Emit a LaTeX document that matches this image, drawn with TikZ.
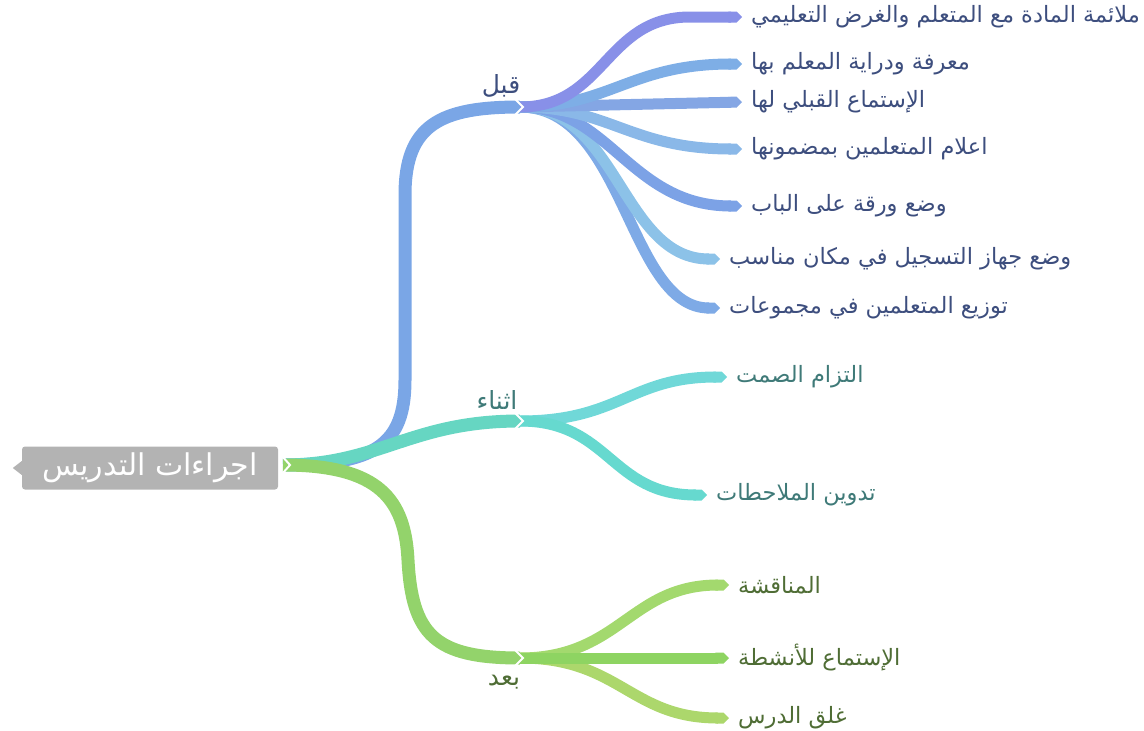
\documentclass[tikz,border=0pt]{standalone}
\usepackage{fontspec}
\newfontfamily\arabicfont[Script=Arabic]{DejaVu Sans}
\usetikzlibrary{arrows.meta}
\TeXXeTstate=1
\newcommand{\artxt}[1]{\beginR #1\endR}
\definecolor{rootgray}{HTML}{B3B3B3}
\definecolor{qblue}{HTML}{7AA6E6}
\definecolor{qpurple}{HTML}{8890E8}
\definecolor{qb2}{HTML}{7EAEE6}
\definecolor{qb3}{HTML}{84A6E4}
\definecolor{qb4}{HTML}{8AB8E8}
\definecolor{qb5}{HTML}{7CA2E6}
\definecolor{qb6}{HTML}{8CC2E8}
\definecolor{qb7}{HTML}{7EAAE6}
\definecolor{qtext}{HTML}{3D4E7E}
\definecolor{ateal}{HTML}{66D6C2}
\definecolor{at1}{HTML}{70D8D8}
\definecolor{at2}{HTML}{66D9CF}
\definecolor{atext}{HTML}{3F7A78}
\definecolor{bgreen}{HTML}{93D36B}
\definecolor{bg1}{HTML}{A3D96E}
\definecolor{bg2}{HTML}{8ED462}
\definecolor{bg3}{HTML}{ACD76C}
\definecolor{btext}{HTML}{4F6D35}
\begin{document}
\begin{tikzpicture}[x=1pt,y=-1pt,
  mainbr/.style={line width=13pt, line cap=butt},
  subbr/.style={line width=11pt, -{Triangle Cap[]}},
  leaf/.style={anchor=west, inner sep=1pt, font=\fontsize{22.5}{26}\selectfont\arabicfont},
  mainlbl/.style={inner sep=1pt, font=\fontsize{25}{28}\selectfont\arabicfont},
  notch/.style={draw=white, line width=2pt, line join=miter}
]
\useasboundingbox (0,0) rectangle (1144,731);

% junction coordinates
\coordinate (r) at (283,465);
\coordinate (jq) at (520,107);
\coordinate (ja) at (520,421);
\coordinate (jb) at (520,658);
% leaf tips
\coordinate (t1) at (742,17);
\coordinate (t2) at (742,64);
\coordinate (t3) at (742,102);
\coordinate (t4) at (742,149);
\coordinate (t5) at (742,206);
\coordinate (t6) at (720,259);
\coordinate (t7) at (720,308);
\coordinate (a1) at (727,377);
\coordinate (a2) at (707,495);
\coordinate (b1) at (729,585);
\coordinate (b2) at (729,658);
\coordinate (b3) at (729,718);

% main branches
\draw[mainbr, qblue] (r) .. controls (375,465) and (405,445) .. (405,380) -- (405,195) .. controls (405,125) and (440,107) .. (jq);
\draw[mainbr, ateal] (r) .. controls (380,465) and (410,421) .. (ja);
\draw[mainbr, bgreen] (r) .. controls (380,465) and (405,500) .. (408,560) .. controls (412,635) and (435,658) .. (jb);

% sub-branches of qabl
\draw[subbr, qb7] (jq) .. controls (625,107) and (628,308) .. (t7);
\draw[subbr, qb6] (jq) .. controls (618,107) and (622,259) .. (t6);
\draw[subbr, qb5] (jq) .. controls (610,107) and (630,206) .. (t5);
\draw[subbr, qb4] (jq) .. controls (610,107) and (630,149) .. (t4);
\draw[subbr, qb3] (jq) -- (t3);
\draw[subbr, qb2] (jq) .. controls (610,107) and (630,64) .. (t2);
\draw[subbr, qpurple] (jq) .. controls (605,107) and (605,17) .. (690,17) -- (t1);

% sub-branches of athna
\draw[subbr, at1] (ja) .. controls (620,421) and (630,377) .. (a1);
\draw[subbr, at2] (ja) .. controls (610,421) and (610,495) .. (a2);

% sub-branches of baad
\draw[subbr, bg3] (jb) .. controls (620,658) and (630,718) .. (b3);
\draw[subbr, bg1] (jb) .. controls (620,658) and (630,585) .. (b1);
\draw[subbr, bg2] (jb) -- (b2);

% notches
\draw[notch] (514,98) -- (523,107) -- (514,116);
\draw[notch] (514,412) -- (523,421) -- (514,430);
\draw[notch] (514,649) -- (523,658) -- (514,667);
\draw[notch] (282,456) -- (290,465) -- (282,474);

% root
\node[fill=rootgray, rounded corners=3pt, minimum width=256pt, minimum height=43pt, inner sep=0pt,
      text=white, font=\fontsize{30}{32}\selectfont\arabicfont] (root) at (150,468) {\artxt{اجراءات التدريس}};
\fill[rootgray] (root.west) ++(0,-7) -- ++(-9,7) -- ++(9,7) -- cycle;

% main labels
\node[mainlbl, text=qtext] (qabl) at (501,86) {\artxt{قبل}};
\node[mainlbl, text=atext] (athna) at (497,400) {\artxt{اثناء}};
\node[mainlbl, text=btext] (baad) at (504,682) {\artxt{بعد}};

% leaves
\node[leaf, text=qtext] (l1) at ([xshift=8pt]t1) {\artxt{ملائمة المادة مع المتعلم والغرض التعليمي}};
\node[leaf, text=qtext] (l2) at ([xshift=8pt]t2) {\artxt{معرفة ودراية المعلم بها}};
\node[leaf, text=qtext] (l3) at ([xshift=8pt]t3) {\artxt{الإستماع القبلي لها}};
\node[leaf, text=qtext] (l4) at ([xshift=8pt]t4) {\artxt{اعلام المتعلمين بمضمونها}};
\node[leaf, text=qtext] (l5) at ([xshift=8pt]t5) {\artxt{وضع ورقة على الباب}};
\node[leaf, text=qtext] (l6) at ([xshift=8pt]t6) {\artxt{وضع جهاز التسجيل في مكان مناسب}};
\node[leaf, text=qtext] (l7) at ([xshift=8pt]t7) {\artxt{توزيع المتعلمين في مجموعات}};
\node[leaf, text=atext] (l8) at ([xshift=8pt]a1) {\artxt{التزام الصمت}};
\node[leaf, text=atext] (l9) at ([xshift=8pt]a2) {\artxt{تدوين الملاحطات}};
\node[leaf, text=btext] (l10) at ([xshift=8pt]b1) {\artxt{المناقشة}};
\node[leaf, text=btext] (l11) at ([xshift=8pt]b2) {\artxt{الإستماع للأنشطة}};
\node[leaf, text=btext] (l12) at ([xshift=8pt]b3) {\artxt{غلق الدرس}};
\end{tikzpicture}
\end{document}
